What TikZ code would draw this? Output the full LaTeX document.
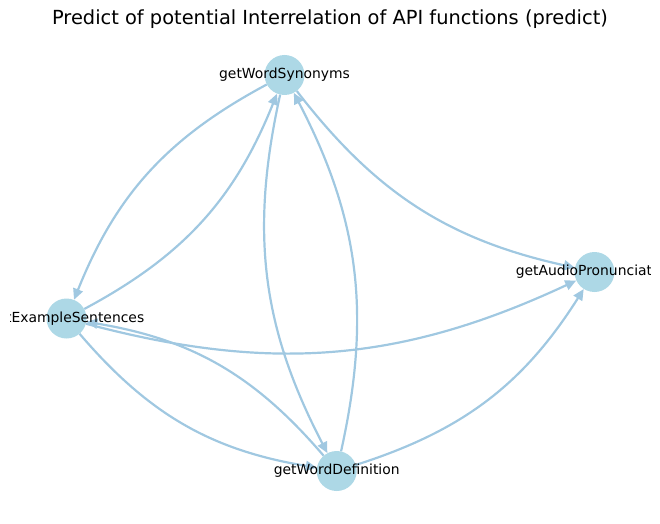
\documentclass[tikz,border=0pt]{standalone}
\usepackage{fontspec}
\setmainfont{DejaVu Sans}
\usetikzlibrary{arrows.meta}
\definecolor{edgeblue}{RGB}{160,200,225}
\definecolor{nodeblue}{RGB}{173,216,230}
\begin{document}
\begin{tikzpicture}[x=1pt,y=1pt,
  fn/.style={circle,fill=nodeblue,minimum size=40pt,inner sep=0pt},
  lbl/.style={font=\fontsize{13.9}{16}\selectfont,inner sep=0pt},
  rel/.style={draw=edgeblue,line width=2.2pt,-{Triangle[length=11pt,width=10pt]},bend right=20},
  ttl/.style={font=\fontsize{19.4}{23}\selectfont,inner sep=0pt}]
\useasboundingbox (0,0) rectangle (660,523);
\node[fn] (S) at (284.5,448) {};
\node[fn] (A) at (594.5,251) {};
\node[fn] (E) at (66.5,204.5) {};
\node[fn] (D) at (336.7,52) {};
\draw[rel] (S) to (E);
\draw[rel] (E) to (S);
\draw[rel] (S) to (D);
\draw[rel] (D) to (S);
\draw[rel] (S) to (A);
\draw[rel] (E) to (A);
\draw[rel] (E) to (D);
\draw[rel] (D) to (E);
\draw[rel] (D) to (A);
\begin{scope}
\clip (10,0) rectangle (650,523);
\node[lbl] (Sl) at (S) {getWordSynonyms};
\node[lbl] (Al) at (A) {getAudioPronunciation};
\node[lbl] (El) at (E) {getExampleSentences};
\node[lbl] (Dl) at (D) {getWordDefinition};
\end{scope}
\node[ttl] (T) at (330,504) {Predict of potential Interrelation of API functions (predict)};
\end{tikzpicture}
\end{document}
